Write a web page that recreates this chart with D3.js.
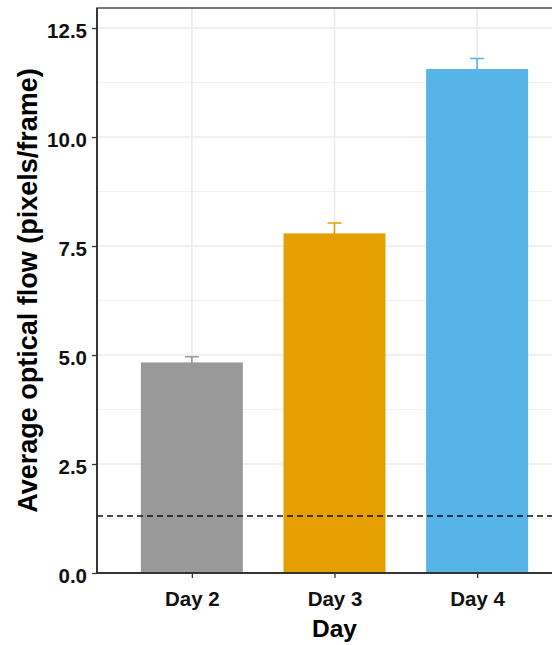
<!DOCTYPE html>
<html>
<head>
<meta charset="utf-8">
<script src="https://cdn.jsdelivr.net/npm/d3@7"></script>
<style>
body { margin:0; background:#fff; }
text { font-family: "Liberation Sans", Arial, sans-serif; font-weight: bold; }
</style>
</head>
<body>
<svg id="chart"></svg>
<script>
// ---------- data ----------
var days = ["Day 2", "Day 3", "Day 4"];
var means = [4.83, 7.79, 11.56];
var errs = [0.13, 0.24, 0.24];
var colours = ["#999999", "#E69F00", "#56B4E9"];
var yTicks = [0, 2.5, 5, 7.5, 10, 12.5];
var minorTicks = [1.25, 3.75, 6.25, 8.75, 11.25];
var threshold = 1.31;

var screen = {width:552, height:645};
var margins = {left:97, top:8};
var graph = {width:475, height:565};

var svg = d3.select("#chart")
	.attr("width", screen.width)
	.attr("height", screen.height);

var xScale = d3.scaleLinear()
	.domain([0.335, 3.665])
	.range([margins.left, margins.left + graph.width]);
var yScale = d3.scaleLinear()
	.domain([0, 12.96])
	.range([margins.top + graph.height, margins.top]);

var x0 = margins.left, x1 = margins.left + graph.width;
var bw = 0.715; // bar width in category units

//---------grid---------
var grid = svg.append("g");
grid.selectAll(".minor").data(minorTicks).enter().append("line")
	.attr("x1", x0).attr("x2", x1)
	.attr("y1", d => yScale(d)).attr("y2", d => yScale(d))
	.attr("stroke", "#f0f0f0").attr("stroke-width", 1);
grid.selectAll(".major").data(yTicks).enter().append("line")
	.attr("x1", x0).attr("x2", x1)
	.attr("y1", d => yScale(d)).attr("y2", d => yScale(d))
	.attr("stroke", "#ebebeb").attr("stroke-width", 1.6);
grid.selectAll(".vmajor").data(days).enter().append("line")
	.attr("x1", (d, i) => xScale(i + 1)).attr("x2", (d, i) => xScale(i + 1))
	.attr("y1", margins.top).attr("y2", margins.top + graph.height)
	.attr("stroke", "#ebebeb").attr("stroke-width", 1.6);

//---------error bars + bars---------
var errG = svg.append("g");
errG.selectAll("path").data(days).enter().append("path")
	.attr("d", function (d, i) {
		var cx = xScale(i + 1), top = yScale(means[i] + errs[i]), bot = yScale(means[i] - errs[i]);
		return "M" + (cx - 7) + "," + top + "H" + (cx + 7) + "M" + cx + "," + top + "V" + bot;
	})
	.attr("stroke", (d, i) => colours[i])
	.attr("stroke-width", 1.6)
	.attr("fill", "none");

svg.append("g").selectAll("rect").data(days).enter().append("rect")
	.attr("x", (d, i) => xScale(i + 1 - bw / 2))
	.attr("width", (d, i) => xScale(i + 1 + bw / 2) - xScale(i + 1 - bw / 2))
	.attr("y", (d, i) => yScale(means[i]))
	.attr("height", (d, i) => yScale(0) - yScale(means[i]))
	.attr("fill", (d, i) => colours[i]);

//---------threshold line---------
svg.append("line")
	.attr("x1", x0).attr("x2", x1)
	.attr("y1", yScale(threshold)).attr("y2", yScale(threshold))
	.attr("stroke", "#111").attr("stroke-width", 1.5)
	.attr("stroke-dasharray", "6,4");

//---------panel border---------
svg.append("rect")
	.attr("x", x0).attr("y", margins.top)
	.attr("width", graph.width).attr("height", graph.height)
	.attr("fill", "none").attr("stroke", "#4d4d4d").attr("stroke-width", 1.5);
svg.append("line")
	.attr("x1", x0).attr("x2", x0)
	.attr("y1", margins.top).attr("y2", margins.top + graph.height)
	.attr("stroke", "#222").attr("stroke-width", 1.5);
svg.append("line")
	.attr("x1", x0).attr("x2", x1)
	.attr("y1", margins.top + graph.height).attr("y2", margins.top + graph.height)
	.attr("stroke", "#222").attr("stroke-width", 1.5);

//---------axes---------
var yAxis = d3.axisLeft(yScale)
	.tickValues(yTicks)
	.tickFormat(d3.format(".1f"))
	.tickSize(5)
	.tickPadding(5);
var yg = svg.append("g")
	.attr("transform", "translate(" + x0 + ",0)")
	.call(yAxis);
yg.select(".domain").remove();
yg.selectAll(".tick line").attr("stroke", "#333").attr("stroke-width", 1.3);
yg.selectAll(".tick text")
	.attr("fill", "#111")
	.attr("dy", "0.45em")
	.style("font-size", "20.5px")
	.style("font-family", "Liberation Sans, Arial, sans-serif")
	.style("font-weight", "bold");

var xAxis = d3.axisBottom(xScale)
	.tickValues([1, 2, 3])
	.tickFormat((d) => days[d - 1])
	.tickSize(5)
	.tickPadding(6);
var xg = svg.append("g")
	.attr("transform", "translate(0," + (margins.top + graph.height) + ")")
	.call(xAxis);
xg.select(".domain").remove();
xg.selectAll(".tick line").attr("stroke", "#333").attr("stroke-width", 1.3);
xg.selectAll(".tick text")
	.attr("fill", "#111")
	.attr("y", 33).attr("dy", 0)
	.style("font-size", "20.5px")
	.style("font-family", "Liberation Sans, Arial, sans-serif")
	.style("font-weight", "bold");

//---------titles---------
svg.append("text")
	.attr("x", xScale(2)).attr("y", 637)
	.attr("text-anchor", "middle")
	.style("font-size", "24.5px")
	.attr("fill", "#000")
	.text("Day");
svg.append("text")
	.attr("transform", "translate(37," + (margins.top + graph.height / 2) + ") rotate(-90)")
	.attr("text-anchor", "middle")
	.style("font-size", "27px")
	.attr("fill", "#000")
	.text("Average optical flow (pixels/frame)");
</script>
</body>
</html>
